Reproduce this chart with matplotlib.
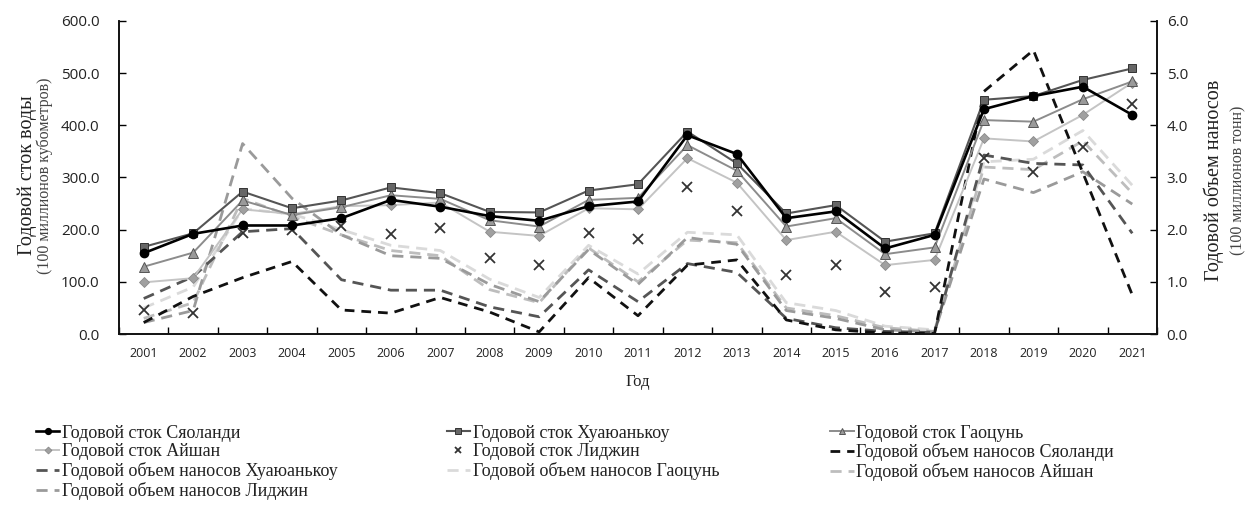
import numpy as np
import matplotlib
matplotlib.use("Agg")
import matplotlib.pyplot as plt

# years on the x axis
years = [str(y) for y in range(2001, 2022)]

# annual runoff, 100 million m3 (left axis)
run_xiaolangdi = [155, 192, 208, 208, 222, 257, 244, 226, 217, 245, 254, 381, 345, 222, 235, 164, 190, 431, 456, 474, 420]
run_huayuankou = [167, 193, 273, 241, 256, 281, 270, 234, 233, 275, 287, 388, 327, 231, 247, 177, 193, 449, 456, 487, 509]
run_gaocun = [129, 156, 256, 228, 243, 266, 259, 218, 206, 257, 261, 362, 313, 206, 222, 153, 166, 410, 407, 450, 484]
run_aishan = [99, 107, 239, 230, 245, 247, 252, 196, 188, 241, 239, 337, 290, 180, 196, 132, 142, 375, 369, 420, 482]
run_lijin = [46, 41, 193, 199, 207, 192, 204, 145, 132, 193, 183, 282, 236, 113, 132, 81, 90, 337, 311, 359, 441]

# annual sediment load, 100 million t (right axis)
sed_xiaolangdi = [0.22, 0.72, 1.08, 1.39, 0.46, 0.40, 0.70, 0.42, 0.04, 1.08, 0.35, 1.32, 1.42, 0.27, 0.08, 0.02, 0.01, 4.65, 5.44, 3.09, 0.75]
sed_huayuankou = [0.68, 1.10, 1.96, 2.02, 1.04, 0.84, 0.84, 0.52, 0.33, 1.23, 0.62, 1.35, 1.18, 0.30, 0.12, 0.05, 0.03, 3.43, 3.27, 3.24, 1.93]
sed_gaocun = [0.50, 0.90, 2.40, 2.30, 2.00, 1.70, 1.60, 1.05, 0.70, 1.70, 1.15, 1.95, 1.90, 0.60, 0.45, 0.15, 0.08, 3.30, 3.35, 3.90, 2.85]
sed_aishan = [0.30, 0.60, 2.60, 2.25, 1.90, 1.60, 1.50, 0.85, 0.60, 1.65, 1.00, 1.80, 1.75, 0.50, 0.35, 0.12, 0.05, 3.20, 3.15, 3.70, 2.70]
sed_lijin = [0.22, 0.45, 3.65, 2.60, 1.90, 1.50, 1.45, 0.95, 0.62, 1.62, 0.95, 1.85, 1.72, 0.45, 0.30, 0.08, 0.04, 2.97, 2.71, 3.11, 2.49]

labels = [
    "Годовой сток Сяоланди",
    "Годовой сток Хуаюанькоу",
    "Годовой сток Гаоцунь",
    "Годовой сток Айшан",
    "Годовой сток Лиджин",
    "Годовой объем наносов Сяоланди",
    "Годовой объем наносов Хуаюанькоу",
    "Годовой объем наносов Гаоцунь",
    "Годовой объем наносов Айшан",
    "Годовой объем наносов Лиджин",
]

tick_font = "Open Sans"
serif = "Liberation Serif"

fig = plt.figure(figsize=(12.45, 5.09), dpi=100)
ax = fig.add_axes([0.0956, 0.3438, 0.8337, 0.615])
ax2 = ax.twinx()
x = np.arange(len(years))

# sediment dashed lines first so the runoff lines sit on top
sed_g, = ax2.plot(x, sed_gaocun, color="#dadada", lw=2.0, dashes=(4, 2.5))
sed_a, = ax2.plot(x, sed_aishan, color="#bdbdbd", lw=2.0, dashes=(4, 2.5))
sed_l, = ax2.plot(x, sed_lijin, color="#9a9a9a", lw=2.0, dashes=(4, 2.5))
sed_h, = ax2.plot(x, sed_huayuankou, color="#555555", lw=2.0, dashes=(4, 2.5))
sed_x, = ax2.plot(x, sed_xiaolangdi, color="#111111", lw=2.0, dashes=(3.5, 2.5))

# runoff lines on ax2 too, scaled to the right axis so everything shares one z-order
k = 0.01
r_a, = ax2.plot(x, np.array(run_aishan) * k, color="#c4c4c4", lw=1.4, marker="D", ms=5,
                mfc="#a0a0a0", mec="#8a8a8a", mew=0.6)
r_g, = ax2.plot(x, np.array(run_gaocun) * k, color="#8c8c8c", lw=1.4, marker="^", ms=6.5,
                mfc="#9a9a9a", mec="#555555", mew=0.7)
r_l, = ax2.plot(x, np.array(run_lijin) * k, ls="none", marker="x", ms=7, mec="#333333", mew=1.3)
r_h, = ax2.plot(x, np.array(run_huayuankou) * k, color="#555555", lw=1.5, marker="s", ms=6,
                mfc="#666666", mec="#333333", mew=0.7)
r_x, = ax2.plot(x, np.array(run_xiaolangdi) * k, color="#000000", lw=1.9, marker="o", ms=6,
                mfc="#000000", mec="#000000")

ax.set_xlim(-0.5, len(years) - 0.5)
ax2.set_xlim(-0.5, len(years) - 0.5)
ax.set_ylim(0, 600)
ax2.set_ylim(0, 6)

ax.set_yticks(np.arange(0, 601, 100))
ax.set_yticklabels([f"{v:.1f}" for v in np.arange(0, 601, 100)], fontfamily=tick_font, fontsize=11, color="#222222")
ax2.set_yticks(np.arange(0, 6.01, 1))
ax2.set_yticklabels([f"{v:.1f}" for v in np.arange(0, 6.01, 1)], fontfamily=tick_font, fontsize=11, color="#222222")

ax.set_xticks(np.arange(-0.5, len(years)))
ax.set_xticklabels([])
ax.set_xticks(x, minor=True)
ax.set_xticklabels(years, minor=True, fontfamily=tick_font, fontsize=9, color="#222222")
ax.tick_params(axis="x", which="major", direction="in", length=5, width=1)
ax.tick_params(axis="x", which="minor", length=0, pad=9)
ax.tick_params(axis="y", direction="in", length=5, width=1, pad=14)
ax2.tick_params(axis="y", direction="in", length=5, width=1, pad=7)

for a in (ax, ax2):
    a.spines["top"].set_visible(False)
    for s in ("left", "right", "bottom"):
        a.spines[s].set_linewidth(1.2)
        a.spines[s].set_color("#111111")

# axis titles
fig.text(0.022, 0.655, "Годовой сток воды", rotation=90, ha="center", va="center",
         fontfamily=serif, fontsize=14.5, color="#222222")
fig.text(0.036, 0.655, "(100 миллионов кубометров)", rotation=90, ha="center", va="center",
         fontfamily=serif, fontsize=11.5, color="#444444")
fig.text(0.975, 0.645, "Годовой объем наносов", rotation=90, ha="center", va="center",
         fontfamily=serif, fontsize=14.5, color="#222222")
fig.text(0.995, 0.645, "(100 миллионов тонн)", rotation=90, ha="center", va="center",
         fontfamily=serif, fontsize=11.5, color="#444444")
fig.text(0.512, 0.25, "Год", ha="center", va="center", fontfamily=serif, fontsize=12, color="#222222")

# legend split into three columns placed by hand
cols = [
    ([r_x, r_a, sed_h, sed_l], [labels[0], labels[3], labels[6], labels[9]], 0.023),
    ([r_h, r_l, sed_g], [labels[1], labels[4], labels[7]], 0.353),
    ([r_g, sed_x, sed_a], [labels[2], labels[5], labels[8]], 0.661),
]
for hs, ls, x0 in cols:
    fig.legend(hs, ls, loc="upper left", bbox_to_anchor=(x0, 0.18), frameon=False,
               prop={"family": serif, "size": 13}, handlelength=1.3, handletextpad=0.15,
               labelspacing=0.1, borderaxespad=0, markerscale=0.7, labelcolor="#222222")

fig.savefig("out.png", dpi=100, facecolor="white")
